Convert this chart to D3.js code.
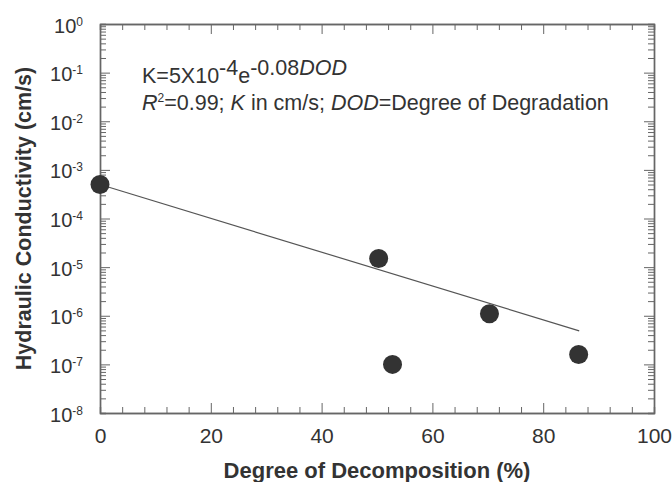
<!DOCTYPE html>
<html>
<head>
<meta charset="utf-8">
<script src="https://cdn.jsdelivr.net/npm/d3@7"></script>
<style>
  body { margin: 0; background: #fff; }
  svg { display: block; font-family: "Liberation Sans", Arial, sans-serif; }
</style>
</head>
<body>
<div id="chart"></div>
<script>
// data
const dod = [0, 50.3, 52.8, 70.3, 86.4];
const kValues = [5.0e-4, 1.5e-5, 1.0e-7, 1.1e-6, 1.6e-7];
// fitted line end points
const fitDod = [0, 86.5];
const fitK = [5.0e-4, 4.9e-7];
const xTicks = [0, 20, 40, 60, 80, 100];
const yExponents = [0, -1, -2, -3, -4, -5, -6, -7, -8];

const width = 672, height = 482;
const margin = {top: 24, right: 18, bottom: 69, left: 100};
const iw = width - margin.left - margin.right;
const ih = height - margin.top - margin.bottom;

const axisColor = "#666";
const textColor = "#333";

const svg = d3.select("#chart").append("svg")
  .attr("width", width)
  .attr("height", height);

const g = svg.append("g")
  .attr("transform", `translate(${margin.left},${margin.top})`);

const x = d3.scaleLinear().domain([0, 100]).range([0, iw]);
const y = d3.scaleLog().domain([1e-8, 1]).range([ih, 0]);

// minor ticks
const xMinor = d3.range(0, 101, 4).filter(v => v % 20 !== 0);
const yMinor = [];
yExponents.slice(0, -1).forEach(e => {
  for (let m = 2; m <= 9; m++) yMinor.push(m * Math.pow(10, e - 1));
});
const yMajor = yExponents.map(e => Math.pow(10, e));

function styleAxis(sel) {
  sel.select(".domain").attr("stroke", axisColor).attr("stroke-width", 1.4);
  sel.selectAll(".tick line").attr("stroke", axisColor).attr("stroke-width", 1);
}

// bottom
g.append("g").attr("transform", `translate(0,${ih})`)
  .call(d3.axisBottom(x).tickValues(xMinor).tickSize(-6).tickFormat(""))
  .call(styleAxis);
g.append("g").attr("transform", `translate(0,${ih})`)
  .call(d3.axisBottom(x).tickValues(xTicks).tickSize(-10).tickPadding(15).tickSizeOuter(0))
  .call(styleAxis)
  .call(a => a.selectAll("text")
    .attr("fill", textColor)
    .style("font-size", "21px"));

// top
g.append("g")
  .call(d3.axisTop(x).tickValues(xMinor).tickSize(-6).tickFormat(""))
  .call(styleAxis);
g.append("g")
  .call(d3.axisTop(x).tickValues(xTicks).tickSize(-10).tickFormat("").tickSizeOuter(0))
  .call(styleAxis);

// left
g.append("g")
  .call(d3.axisLeft(y).tickValues(yMinor).tickSize(-6).tickFormat(""))
  .call(styleAxis);
const left = g.append("g")
  .call(d3.axisLeft(y).tickValues(yMajor).tickSize(-10).tickPadding(17).tickSizeOuter(0))
  .call(styleAxis);
left.selectAll("text").each(function(d) {
  const t = d3.select(this).text("")
    .attr("dy", "0.4em")
    .attr("fill", textColor)
    .style("font-size", "20px");
  t.append("tspan").text("10");
  t.append("tspan").attr("dy", -7).style("font-size", "12px")
    .text(Math.round(Math.log10(d)));
});

// right
g.append("g").attr("transform", `translate(${iw},0)`)
  .call(d3.axisRight(y).tickValues(yMinor).tickSize(-6).tickFormat(""))
  .call(styleAxis);
g.append("g").attr("transform", `translate(${iw},0)`)
  .call(d3.axisRight(y).tickValues(yMajor).tickSize(-10).tickFormat("").tickSizeOuter(0))
  .call(styleAxis);

// fit line
const fit = fitDod.map((d, i) => ({x: d, k: fitK[i]}));
g.append("path")
  .datum(fit)
  .attr("fill", "none")
  .attr("stroke", "#555")
  .attr("stroke-width", 1.2)
  .attr("d", d3.line().x(d => x(d.x)).y(d => y(d.k)));

// points
g.selectAll("circle.pt")
  .data(dod.map((d, i) => ({x: d, k: kValues[i]})))
  .enter().append("circle")
  .attr("class", "pt")
  .attr("cx", d => x(d.x))
  .attr("cy", d => y(d.k))
  .attr("r", 9.5)
  .attr("fill", "#333");

// annotation
const ann = g.append("g").attr("fill", textColor).style("font-size", "21.5px");
const l1 = ann.append("text").attr("x", 42).attr("y", 59);
l1.append("tspan").text("K=5X10");
l1.append("tspan").attr("dy", -8).text("-4");
l1.append("tspan").attr("dy", 8).text("e");
l1.append("tspan").attr("dy", -8).text("-0.08");
l1.append("tspan").style("font-style", "italic").text("DOD");

const l2 = ann.append("text").attr("x", 42).attr("y", 86);
l2.append("tspan").style("font-style", "italic").text("R");
l2.append("tspan").attr("dy", -8).style("font-size", "12px").text("2");
l2.append("tspan").attr("dy", 8).text("=0.99; ");
l2.append("tspan").style("font-style", "italic").text("K");
l2.append("tspan").text(" in cm/s; ");
l2.append("tspan").style("font-style", "italic").text("DOD");
l2.append("tspan").text("=Degree of Degradation");

// axis titles
svg.append("text")
  .attr("x", margin.left + iw / 2)
  .attr("y", 478)
  .attr("text-anchor", "middle")
  .attr("fill", textColor)
  .style("font-size", "22px")
  .style("font-weight", "bold")
  .text("Degree of Decomposition (%)");

svg.append("text")
  .attr("transform", `translate(31,${margin.top + ih / 2}) rotate(-90)`)
  .attr("text-anchor", "middle")
  .attr("fill", textColor)
  .style("font-size", "21.5px")
  .style("font-weight", "bold")
  .text("Hydraulic Conductivity (cm/s)");
</script>
</body>
</html>
